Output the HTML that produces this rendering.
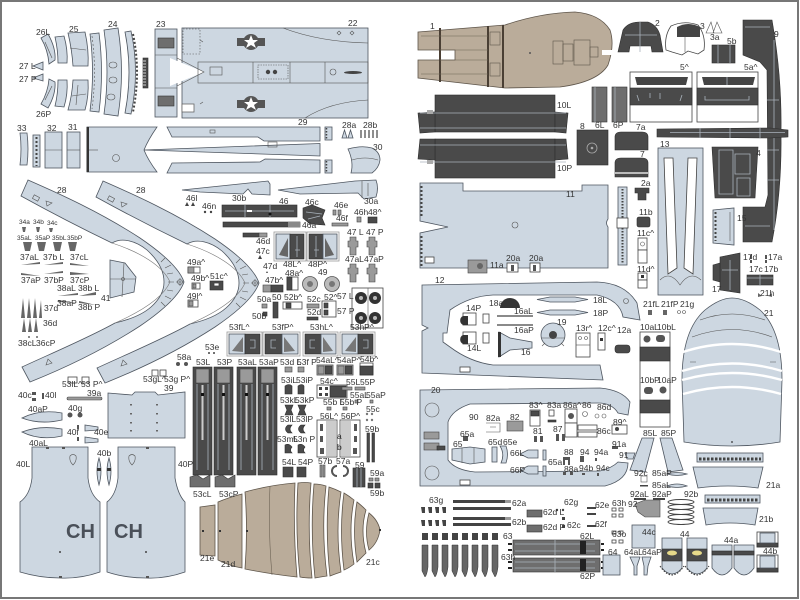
<!DOCTYPE html>
<html><head><meta charset="utf-8"><style>
html,body{margin:0;padding:0;background:#fff}
svg{display:block}
.l{fill:#cdd7e1;stroke:#4e5660;stroke-width:.8}
.d{fill:#4a4a4a;stroke:#2e2e2e;stroke-width:.6}
.m{fill:#6e6e6e;stroke:#333;stroke-width:.6}
.g{fill:#9a9a9a;stroke:#444;stroke-width:.6}
.t{fill:#baac9a;stroke:#5e554a;stroke-width:.8}
.w{fill:#fff;stroke:#444;stroke-width:.8}
.ln{fill:none;stroke:#555;stroke-width:.6}
.lt{fill:none;stroke:#aab3bc;stroke-width:.8}
.gap{fill:none;stroke:#fff;stroke-width:2.4}
text{font-family:"Liberation Sans",sans-serif;font-size:8.5px;fill:#333}
.ch{font-size:20px;font-weight:bold;fill:#4a5059}
</style></head><body>
<svg width="800" height="600" viewBox="0 0 800 600" xmlns="http://www.w3.org/2000/svg">
<rect x="0" y="0" width="800" height="600" fill="#fff"/>
<rect x="1" y="1" width="797" height="597" fill="none" stroke="#777" stroke-width="2"/>

<!-- ===== TOP LEFT STRIPS ===== -->
<path class="l" d="M41,38 L48,34 Q56,48 55,60 L49,64 Q48,50 41,38 Z"/>
<path class="ln" d="M45,42 L52,58"/>
<path class="l" d="M41,104 L48,108 Q56,94 55,82 L49,79 Q48,92 41,104 Z"/>
<path class="ln" d="M45,100 L52,86"/>
<path class="l" d="M33,66 L43,62 L43,70 Z"/>
<path class="l" d="M33,78 L43,74 L43,81 Z"/>
<path class="l" d="M55,37 L64,36 Q68,50 67,63 L58,63 Q58,50 55,37 Z"/>
<path class="l" d="M58,80 L67,80 Q68,94 64,107 L55,106 Q58,94 58,80 Z"/>
<path class="l" d="M68,33 L85,32 Q89,50 88,66 L73,66 Q72,50 68,33 Z"/>
<path class="l" d="M73,80 L88,80 Q89,96 85,110 L68,110 Q72,96 73,80 Z"/>
<path class="ln" d="M70,48 L86,50 M72,96 L86,94 M78,85 L76,105"/>
<path class="l" d="M90,34 L99,33 Q104,72 99,112 L90,111 Q95,72 90,34 Z"/>
<path class="ln" stroke-dasharray="2 2" d="M92,36 Q97,72 92,109"/>
<path class="l" d="M104,30 L118,28 Q125,72 118,116 L104,114 Q110,72 104,30 Z"/>
<ellipse class="ln" cx="113" cy="65" rx="4" ry="3"/><ellipse class="ln" cx="113" cy="80" rx="4" ry="3"/><ellipse class="ln" cx="111" cy="97" rx="4" ry="3"/>
<path class="l" d="M125,32 L131,31 Q140,72 131,114 L125,113 Q133,72 125,32 Z"/>
<path fill="none" stroke="#444" stroke-width="2" stroke-dasharray="2 2" d="M133,34 Q141,72 133,112"/>
<rect class="d" x="143" y="58" width="5" height="30"/>
<path stroke="#fff" stroke-width=".7" d="M143,61 H146 M143,64 H146 M143,67 H146 M143,70 H146 M143,73 H146 M143,76 H146 M143,79 H146 M143,82 H146 M143,85 H146"/>
<!-- 23 -->
<rect class="l" x="155" y="29" width="22" height="88"/>
<rect class="m" x="158" y="38" width="16" height="10"/>
<rect class="m" x="158" y="96" width="16" height="10"/>
<path class="ln" d="M155,55 H177 M155,88 H177"/>
<!-- 22 -->
<rect class="l" x="182" y="28" width="186" height="90"/>
<path class="w" d="M170,58 L204,72 L170,86 Z" style="stroke:none"/>
<path class="ln" d="M177,58 L204,72 L177,86"/>
<rect class="ln" x="183" y="29" width="17" height="25" stroke-dasharray="1.5 1.5"/>
<rect class="w" x="182" y="104" width="12" height="8" style="stroke:#666"/>
<rect class="ln" x="198" y="62" width="170" height="21"/>
<path class="ln" d="M253,62 V83 M290,62 V83 M325,62 V83"/>
<rect class="ln" x="210" y="67" width="12" height="8"/>
<rect class="ln" x="258" y="65" width="30" height="14" stroke-dasharray="1.5 1"/>
<circle cx="268" cy="72" r="2.2" fill="#444"/><circle cx="275" cy="72" r="2.2" fill="#444"/>
<circle class="ln" cx="333" cy="72" r="3"/>
<ellipse cx="353" cy="72.5" rx="9" ry="1.5" fill="#444"/>
<path class="ln" d="M283,28 Q320,42 368,43 M305,118 Q330,102 368,100"/>
<g>
<rect x="237" y="38" width="28" height="8" fill="#555"/>
<circle cx="251" cy="42" r="8" fill="#555"/>
<polygon points="251,35 253,40 258,40 254,43 256,48 251,45 246,48 248,43 244,40 249,40" fill="#fff"/>
<rect x="237" y="100" width="28" height="8" fill="#555"/>
<circle cx="251" cy="104" r="8" fill="#555"/>
<polygon points="251,97 253,102 258,102 254,105 256,110 251,107 246,110 248,105 244,102 249,102" fill="#fff"/>
</g>
<path class="ln" d="M339,31 l2,2 -2,2 -2,-2 z M352,31 l2,2 -2,2 -2,-2 z M200,40 l3,2 M200,104 l3,-2"/>

<!-- ===== ROW 2 ===== -->
<path class="l" d="M20,133 L27,133 Q29,149 27,165 L20,165 Q22,149 20,133 Z"/>
<rect class="l" x="33" y="135" width="7" height="32"/>
<path fill="none" stroke="#444" stroke-width="2" stroke-dasharray="2 2" d="M36.5,137 V166"/>
<rect class="l" x="45" y="132" width="17" height="36"/>
<path class="ln" d="M45,150 H62"/>
<rect class="l" x="67" y="132" width="13" height="36"/>
<path class="ln" d="M67,150 H80"/>
<!-- 29 -->
<path class="l" d="M87,127 L157,127 Q148,140 144,150 Q148,160 157,172 L87,172 Z"/>
<rect x="86.5" y="127" width="2.5" height="45" fill="#333"/>
<circle class="ln" cx="116" cy="158" r="3.5"/>
<path class="ln" d="M89,150 H98"/>
<path class="l" d="M144,150 L320,143.5 L320,156 Z"/>
<path class="l" d="M167,127 L320,127 L320,141 L264,141 L258,137 L172,137 Z"/>
<rect class="ln" x="210" y="130" width="5" height="3"/>
<path class="l" d="M167,173 L320,173 L320,160 L265,159 L260,162 L172,163 Z"/>
<rect class="ln" x="268" y="142" width="9" height="5"/>
<rect class="l" x="325" y="127" width="7" height="13"/>
<rect class="l" x="325" y="160" width="7" height="13"/>
<path fill="none" stroke="#444" stroke-width="1.5" stroke-dasharray="1.5 1.5" d="M326.5,128 V139 M326.5,161 V172"/>
<path class="l" d="M342,138 L344.5,130 L347,138 Z M348,138 L350.5,130 L353,138 Z"/>
<path stroke="#444" stroke-width="1.2" d="M361,130 V138 M365,130 V138 M369,130 V138 M373,130 V138 M377,130 V138"/>
<path class="l" d="M348,149 Q362,145 372,148 Q380,152 380,160 Q379,168 372,173 L351,173 Q354,162 348,149 Z"/>
<path class="ln" d="M352,160 Q365,156 378,160"/>

<!-- ===== 28 bands ===== -->
<g id="b28">
<path class="l" d="M28,180 C60,194 100,212 140,238 C165,255 180,270 184,282 C180,294 165,309 140,326 C100,352 60,370 30,382 L22,367 C50,354 88,338 115,323 C128,320 142,315 151,307 C160,299 164,291 164,282 C164,271 158,260 147,250 C136,241 122,237 112,243 C85,230 50,212 21,196 Z"/>
<path class="ln" d="M112,243 C140,252 163,266 170,282 C163,298 140,312 115,323" style="stroke:#777"/>
<path class="ln" d="M165,268 l6,-3 M167,274 l6,-1 M168,282 h6 M167,290 l6,1 M165,296 l6,3 M161,262 l4,-4 M161,302 l4,4"/>
<circle class="ln" cx="180" cy="282" r="2.5"/><path class="ln" d="M176,282 h8 M180,278 v8"/>
<rect class="ln" x="33" y="196" width="6" height="4" transform="rotate(28 36 198)"/>
<path class="ln" d="M46,201 l6,2 -5,3 z M46,365 l6,-2 -4,-4 z"/>
</g>
<use href="#b28" transform="translate(75,1)"/>
<path class="l" d="M110,260 L125,263 L136,277 L134,292 L110,298 Z"/>
<path class="ln" d="M110,279 L136,279 M124,263 L122,297"/>
<circle class="ln" cx="123" cy="279" r="1.5"/>

<!-- ===== ROW 3 ===== -->
<path class="l" d="M182,190 L268,181 L270,184 L270,195 L252,194 L248,189 L243,194 L200,192 Z"/>
<path class="l" d="M278,190 L355,181 L376,180 Q379,188 376,197 L364,199 L358,193 L300,194 Z"/>
<path class="ln" d="M362,181 L362,198 M368,183 L368,196"/>
<path fill="#444" d="M185,206 l2,-4 2,4 z M191,206 l2,-4 2,4 z"/>
<circle cx="205" cy="212" r="1.2" fill="#444"/><circle cx="211" cy="212" r="1.2" fill="#444"/>
<rect class="d" x="222" y="205" width="75" height="12"/>
<path class="lt" d="M225,211 H294 M245,205 V217 M270,205 V217"/>
<rect x="247" y="210" width="5" height="2" fill="#fff"/><circle cx="270" cy="214" r="1.5" fill="#111"/>
<rect class="d" x="223" y="222" width="77" height="5"/>
<rect x="288" y="222" width="12" height="5" fill="#888"/>
<path class="d" d="M303,208 L312,205 L325,210 L322,218 L325,225 L310,224 L303,218 Z"/>
<path class="lt" d="M306,212 L322,214 M308,219 L320,216"/>
<rect class="g" x="333" y="210" width="3" height="5"/><rect class="g" x="338" y="210" width="3" height="5"/>
<rect class="g" x="332" y="223" width="16" height="3"/>
<rect class="g" x="357" y="217" width="4" height="5"/>
<rect class="d" x="368" y="217" width="9" height="6"/>
<rect class="d" x="243" y="233" width="16" height="4"/><rect class="g" x="259" y="233" width="8" height="4"/>
<path fill="#444" d="M258,259 l2,-4 2,4 z M266,273 l1,-2 1,2 z"/>
<!-- 48L^ 48P^ -->
<rect class="w" x="274" y="232" width="32" height="29" style="stroke:#999"/>
<rect class="l" x="276" y="234" width="14" height="25"/>
<path fill="#666" d="M279,255 L288,238 L288,257 Z"/>
<rect class="d" x="290" y="234" width="14" height="25"/>
<path class="lt" d="M297,236 V257 M295,250 h5"/>
<rect class="w" x="307" y="232" width="32" height="29" style="stroke:#999"/>
<rect class="d" x="309" y="234" width="14" height="25"/>
<path class="lt" d="M316,236 V257 M314,250 h5"/>
<rect class="l" x="323" y="234" width="14" height="25"/>
<path fill="#666" d="M334,255 L325,238 L325,257 Z"/>
<!-- 47 -->
<path class="g" d="M350,237 h6 v4 h2 v6 h-2 v8 h-6 v-8 h-2 v-6 h2 z"/>
<path class="g" d="M369,237 h6 v4 h2 v6 h-2 v8 h-6 v-8 h-2 v-6 h2 z"/>
<path class="g" d="M350,264 h6 v4 h2 v6 h-2 v8 h-6 v-8 h-2 v-6 h2 z"/>
<path class="g" d="M369,264 h6 v4 h2 v6 h-2 v8 h-6 v-8 h-2 v-6 h2 z"/>
<rect class="w" x="287" y="277" width="11" height="13"/><rect class="d" x="287" y="277" width="5" height="13"/>
<circle cx="310" cy="284" r="7.5" fill="#bbb" stroke="#555" stroke-width=".8"/><circle cx="310" cy="284" r="3" fill="#777"/>
<circle cx="332" cy="284" r="7.5" fill="#bbb" stroke="#555" stroke-width=".8"/><circle cx="332" cy="284" r="3" fill="#777"/>
<rect class="g" x="263" y="285" width="8" height="7"/><rect class="d" x="271" y="285" width="12" height="7"/>
<rect class="w" x="188" y="267" width="12" height="6"/><rect class="g" x="188" y="267" width="6" height="6"/>
<rect class="w" x="192" y="283" width="8" height="6"/><rect class="g" x="193" y="284" width="3" height="4"/>
<rect class="d" x="210" y="281" width="13" height="9"/><rect class="w" x="214" y="283" width="5" height="3"/>
<rect class="w" x="188" y="300" width="10" height="7"/><rect class="g" x="189" y="301" width="4" height="5"/>
<rect class="g" x="262" y="304" width="5" height="4"/>
<rect class="d" x="273" y="302" width="5" height="16"/>
<rect class="d" x="263" y="312" width="4" height="4"/>
<rect class="w" x="283" y="302" width="19" height="7"/><rect class="d" x="286" y="303" width="5" height="5"/>
<rect class="g" x="307" y="304" width="12" height="4"/>
<rect class="d" x="307" y="317" width="11" height="3"/>
<rect class="w" x="322" y="301" width="14" height="16"/><rect class="d" x="324" y="303" width="4" height="5"/><rect class="d" x="324" y="310" width="4" height="5"/>
<!-- 57 -->
<rect class="w" x="352" y="288" width="31" height="40"/>
<circle cx="361" cy="298" r="6" fill="#333"/><circle cx="375" cy="298" r="6" fill="#333"/>
<circle cx="361" cy="318" r="6" fill="#333"/><circle cx="375" cy="318" r="6" fill="#333"/>
<circle cx="361" cy="298" r="2" fill="#bbb"/><circle cx="375" cy="298" r="2" fill="#bbb"/>
<circle cx="361" cy="318" r="2" fill="#bbb"/><circle cx="375" cy="318" r="2" fill="#bbb"/>
<path class="ln" d="M368,288 V328"/>

<!-- left small parts -->
<g fill="#666">
<path d="M22,227 h4 l-1,5 h-2 z M36,227 h4 l-1,5 h-2 z M49,228 h4 l-1,4 h-2 z"/>
<path d="M23,242 h9 l-2,9 h-5 z M37,242 h9 l-2,9 h-5 z M53,242 h9 l-2,9 h-5 z M68,242 h9 l-2,9 h-5 z"/>
<path d="M21,265 L40,262 L40,264 Z M44,265 L63,262 L63,264 Z M70,263 L89,266 L70,265 Z"/>
<path d="M21,273 L40,276 L21,275 Z M44,274 L63,271 L63,273 Z M70,272 L89,274 L70,275 Z"/>
<path d="M58,296 L78,293 L78,295 Z M79,296 L96,292 L96,295 Z M58,300 L78,303 L58,302 Z M79,301 L96,305 L79,303 Z"/>
<path d="M21,318 L23,298 L25,318 Z M27,318 L29,298 L31,318 Z M33,318 L35,298 L37,318 Z M39,318 L41,300 L42,318 Z"/>
<path d="M22,332 L24,318 L26,332 Z M28,332 L30,318 L32,332 Z M34,332 L36,318 L38,332 Z"/>
<circle cx="29" cy="337" r="1"/><circle cx="37" cy="337" r="1"/>
</g>

<!-- ===== ROW 4: 53 boxes ===== -->
<rect class="w" x="227" y="332" width="35" height="24" style="stroke:#999"/>
<rect class="l" x="229" y="334" width="16" height="20"/><path fill="#777" d="M232,351 L243,337 L243,352 Z"/>
<rect class="d" x="245" y="334" width="15" height="20"/><path class="lt" d="M250,340 h5 v8 h-5"/>
<rect class="w" x="263" y="332" width="37" height="24" style="stroke:#999"/>
<rect class="d" x="265" y="334" width="17" height="20"/><path class="lt" d="M276,340 h-5 v8 h5"/>
<rect class="l" x="282" y="334" width="16" height="20"/><path fill="#777" d="M295,351 L284,337 L284,352 Z"/>
<rect class="w" x="303" y="332" width="35" height="24" style="stroke:#999"/>
<rect class="d" x="305" y="334" width="16" height="20"/><path class="lt" d="M315,340 h-5 v8 h5"/>
<rect class="l" x="321" y="334" width="15" height="20"/><path fill="#777" d="M333,351 L323,337 L323,352 Z"/>
<rect class="w" x="340" y="332" width="35" height="24" style="stroke:#999"/>
<rect class="l" x="342" y="334" width="16" height="20"/><path fill="#777" d="M345,351 L356,337 L356,352 Z"/>
<rect class="d" x="358" y="334" width="15" height="20"/><path class="lt" d="M363,340 h5 v8 h-5"/>
<circle cx="209" cy="353" r="1" fill="#444"/><circle cx="214" cy="353" r="1" fill="#444"/>
<circle cx="178" cy="364" r="2" fill="#555"/><circle cx="186" cy="364" r="2" fill="#555"/>
<!-- tall strips -->
<g>
<rect class="d" x="193" y="367" width="19" height="108"/><rect class="g" x="196" y="369" width="13" height="14"/>
<rect class="d" x="214" y="367" width="19" height="108"/><rect class="g" x="217" y="369" width="13" height="14"/>
<rect class="d" x="237" y="367" width="19" height="108"/><rect class="g" x="240" y="369" width="13" height="14"/>
<rect class="d" x="258" y="367" width="19" height="108"/><rect class="g" x="261" y="369" width="13" height="14"/>
<path class="lt" d="M197,384 V470 M208,384 V470 M218,384 V470 M229,384 V470 M241,384 V470 M252,384 V470 M262,384 V470 M273,384 V470"/>
<path stroke="#ccc" stroke-width="2" d="M202.5,385 V440 M223.5,385 V440 M246.5,385 V440 M267.5,385 V440"/>
<rect x="201" y="393" width="3" height="3" fill="#111"/><rect x="222" y="393" width="3" height="3" fill="#111"/><rect x="245" y="393" width="3" height="3" fill="#111"/><rect x="266" y="393" width="3" height="3" fill="#111"/>
</g>
<path class="m" d="M190,477 L197,475 L203,479 L210,475 L210,487 L190,487 Z"/>
<path class="m" d="M215,477 L222,475 L228,479 L235,475 L235,487 L215,487 Z"/>
<!-- small parts col -->
<g>
<rect class="g" x="285" y="367" width="7" height="5"/><rect class="g" x="298" y="367" width="6" height="5"/>
<rect class="w" x="317" y="365" width="16" height="10"/><rect class="d" x="325" y="366" width="7" height="8"/><rect class="g" x="318" y="366" width="6" height="8"/>
<rect class="w" x="337" y="365" width="16" height="10"/><rect class="g" x="338" y="366" width="6" height="8"/><rect class="d" x="345" y="366" width="7" height="8"/>
<rect class="w" x="360" y="363" width="13" height="12"/><rect class="d" x="360" y="366" width="13" height="9"/>
<path class="d" d="M285,386 q4,-3 7,0 v8 h-7 z M298,386 q4,-3 6,0 v8 h-6 z"/>
<path class="d" d="M285,405 h8 l-2,5 2,5 h-8 l2,-5 z M298,405 h8 l-2,5 2,5 h-8 l2,-5 z"/>
<path class="d" d="M288,425 q-5,4 0,8 h4 q-4,-4 0,-8 z M301,425 q-5,4 0,8 h4 q-4,-4 0,-8 z"/>
<path class="d" d="M285,445 q4,-2 7,2 q-3,3 0,6 h-7 z M298,445 q4,-2 7,2 q-3,3 0,6 h-7 z"/>
<path class="d" d="M283,467 h10 v10 h-10 z M297,467 h9 v10 h-9 z"/>
<rect class="w" x="317" y="385" width="30" height="13"/><rect class="d" x="330" y="386" width="16" height="11"/>
<rect x="319" y="387" width="3" height="3" fill="#444"/><rect x="325" y="387" width="3" height="3" fill="#444"/><rect x="319" y="393" width="3" height="3" fill="#444"/><rect x="325" y="393" width="3" height="3" fill="#444"/>
<rect class="g" x="342" y="387" width="10" height="3"/><rect class="g" x="355" y="387" width="10" height="3"/>
<rect class="g" x="355" y="400" width="3" height="3"/><rect class="g" x="370" y="400" width="3" height="3"/>
<rect class="g" x="327" y="407" width="4" height="3"/><rect class="g" x="343" y="407" width="4" height="3"/>
<circle cx="367" cy="414" r="1.2" fill="#777"/><circle cx="372" cy="414" r="1.2" fill="#777"/><circle cx="367" cy="420" r="1.2" fill="#777"/><circle cx="372" cy="420" r="1.2" fill="#777"/>
<rect class="w" x="317" y="420" width="20" height="37"/><rect x="326" y="421" width="10" height="35" fill="#ccc"/>
<rect class="w" x="340" y="420" width="20" height="37"/><rect x="341" y="421" width="10" height="35" fill="#ccc"/>
<path fill="#555" d="M320,424 h3 v7 h-3 z M320,436 h3 v6 h-3 z M320,448 h4 v6 h-4 z M354,424 h3 v7 h-3 z M354,436 h3 v6 h-3 z M353,448 h4 v6 h-4 z"/>
<rect class="d" x="367" y="433" width="2.5" height="29"/><rect class="d" x="372" y="433" width="2.5" height="29"/>
<rect class="g" x="320" y="465" width="2" height="12"/><rect class="g" x="323" y="465" width="2" height="12"/>
<path fill="none" stroke="#555" stroke-width="2" d="M337,466 a5,5 0 0 0 0,10 M343,466 a5,5 0 0 1 0,10"/>
<rect class="d" x="353" y="468" width="12" height="19"/><path class="lt" d="M357,468 v19 M361,468 v19"/>
<rect class="g" x="369" y="478" width="4" height="3"/><rect class="g" x="375" y="478" width="4" height="3"/>
<rect class="d" x="368" y="483" width="5" height="5"/><rect class="d" x="375" y="483" width="5" height="5"/>
</g>

<!-- ===== LOWER LEFT ===== -->
<rect class="w" x="68" y="377" width="9" height="6"/><rect class="w" x="82" y="377" width="7" height="6"/>
<rect class="w" x="152" y="370" width="6" height="6"/><rect class="w" x="160" y="370" width="6" height="6"/>
<path fill="#555" d="M32,392 h4 v3 h-4 z M32,398 h4 v3 h-4 z M42,393 h2 v6 h-2 z"/>
<rect class="g" x="67" y="397" width="35" height="3" rx="1.5"/>
<path class="l" d="M108,393 L132,395 L135,392 L155,392 L158,395 L185,392 L185,438 L108,438 Z"/>
<g fill="#666"><rect x="130" y="404" width="2" height="1.5"/><rect x="156" y="404" width="2" height="1.5"/><rect x="130" y="413" width="2" height="1.5"/><rect x="156" y="413" width="2" height="1.5"/><rect x="130" y="422" width="2" height="1.5"/><rect x="156" y="422" width="2" height="1.5"/><rect x="130" y="430" width="2" height="1.5"/><rect x="156" y="430" width="2" height="1.5"/></g>
<path class="l" d="M22,418 Q40,409 62,413 L62,420 Q40,425 22,418 Z"/>
<path class="l" d="M22,432 Q40,425 62,429 L62,436 Q40,441 22,432 Z"/>
<circle cx="70" cy="415" r="2.5" fill="#555"/><circle cx="80" cy="415" r="2.5" fill="#555"/>
<rect fill="#555" x="77" y="425" width="2" height="4"/><rect fill="#555" x="77" y="437" width="2" height="4"/>
<path class="l" d="M85,425 L98,427 L98,430 L85,431 Z M85,437 L98,439 L98,442 L85,443 Z"/>
<path class="l" d="M32,447 L88,447 L88,478 Q90,495 100,502 L100,572 Q80,579 60,578 Q40,578 20,572 L20,502 Q30,495 32,478 Z"/>
<path class="l" d="M118,447 L175,447 L175,478 Q178,495 185,502 L185,572 Q165,579 146,578 Q125,578 107,572 L107,502 Q116,495 118,478 Z"/>
<path fill="#555" d="M46,447 h3 v2 h-3 z M62,447 h3 v2 h-3 z M146,447 h3 v2 h-3 z M59,576 h3 v2 h-3 z M146,576 h3 v2 h-3 z"/>
<path class="ln" d="M70,456 q3,-3 6,0 q1,5 -3,9 q-4,-4 -3,-9 z M129,456 q3,-3 6,0 q1,5 -3,9 q-4,-4 -3,-9 z"/>
<text class="ch" x="66" y="538">CH</text>
<text class="ch" x="114" y="538">CH</text>
<circle cx="60" cy="552" r="1" fill="#444"/><circle cx="146" cy="552" r="1" fill="#444"/>
<path class="l" d="M99,458 Q103,471 99,485 Q95,471 99,458 Z"/>
<path class="l" d="M109,458 Q113,471 109,485 Q105,471 109,458 Z"/>
<rect fill="#333" x="97" y="468" width="4" height="3"/><rect fill="#333" x="107" y="468" width="4" height="3"/>
<!-- tan 21c-e -->
<path class="t" d="M200,507 L215,505 L215,556 L200,555 Z"/>
<path class="t" d="M218,502 Q230,497 242,494 L242,568 Q230,566 218,560 Z"/>
<path class="t" d="M245,492 Q270,485 295,483 Q293,530 297,577 Q270,574 245,569 Q248,530 245,492 Z"/>
<path class="t" d="M298,483 Q305,482 311,483 Q307,530 312,578 Q305,578 300,577 Q295,530 298,483 Z"/>
<path class="t" d="M314,484 Q320,484 326,486 Q321,530 327,576 Q320,577 315,578 Q310,530 314,484 Z"/>
<path class="t" d="M329,487 Q335,489 341,492 Q335,530 341,572 Q335,574 330,576 Q325,530 329,487 Z"/>
<path class="t" d="M344,493 Q349,496 354,500 Q348,530 354,564 Q349,568 344,570 Q339,530 344,493 Z"/>
<path class="t" d="M357,502 Q361,505 366,510 Q360,530 366,553 Q361,558 357,562 Q352,530 357,502 Z"/>
<path class="t" d="M369,513 Q378,520 380,530 Q378,543 369,550 Q364,532 369,513 Z"/>
<path class="ln" d="M270,486 Q268,530 272,575" style="stroke:#6d6355"/>
<path fill="#333" d="M202,530 h2 v2 h-2 z M219,530 h2 v2 h-2 z M246,530 h2 v2 h-2 z M379,529 h2 v2 h-2 z"/>

<!-- ===== RIGHT SIDE TOP ===== -->
<path class="t" d="M418,32 L505,25 Q540,13 575,12 Q600,14 610,30 Q615,45 608,65 Q598,82 560,87 L505,88 L418,78 L418,60 L455,60 L455,50 L418,50 Z"/>
<rect x="602" y="50" width="12" height="5" fill="#fff"/>
<path stroke="#4a3f34" stroke-width="2" d="M440,28 V82 M488,26 V87 M503,25 V88"/>
<path class="ln" d="M421,36 H488 M421,74 H488 M440,50 H488 M440,60 H488" style="stroke:#6d6355"/>
<rect class="ln" x="490" y="32" width="10" height="13" style="stroke:#5e554a"/><rect class="ln" x="490" y="63" width="10" height="13" style="stroke:#5e554a"/>
<rect class="ln" x="553" y="41" width="10" height="23" style="stroke:#5e554a"/><rect class="ln" x="563" y="44" width="10" height="17" style="stroke:#5e554a"/><rect class="ln" x="574" y="40" width="16" height="25" style="stroke:#5e554a"/><rect class="ln" x="590" y="47" width="8" height="10" style="stroke:#5e554a"/>
<circle cx="530" cy="53" r="1" fill="#555"/>
<path class="d" d="M618,52 L623,30 Q628,22 640,22 L648,22 Q657,25 660,35 L663,52 L652,52 L651,46 L630,46 L629,52 Z"/>
<path class="lt" d="M625,35 H657 M640,22 V52"/>
<path class="w" d="M666,50 Q664,36 671,26 Q684,20 698,25 Q706,35 704,50 L698,54 L688,51 L682,55 L672,52 Z"/>
<path fill="#444" d="M677,37 L677,27 Q688,21 700,27 L700,37 Z"/>
<path class="ln" d="M685,37 V52"/>
<path class="ln" d="M706,33 L711,22 L714,33 Z M713,33 L717,22 L722,33 Z"/>
<rect class="d" x="712" y="45" width="23" height="18"/><path class="lt" d="M718,45 v18 M730,45 v18"/>
<rect class="w" x="630" y="72" width="62" height="50"/>
<path fill="#444" d="M635,77 H688 L686,85 H637 Z"/>
<rect class="d" x="630" y="88" width="62" height="17"/>
<path class="lt" d="M637,95 l2,6 M650,93 v5 M660,93 v6 M682,95 l-2,6"/>
<rect class="w" x="697" y="72" width="61" height="50"/>
<path fill="#444" d="M702,77 H755 L753,85 H704 Z"/>
<rect class="d" x="697" y="88" width="61" height="17"/>
<path class="lt" d="M705,96 v4 h44 v-4 M727,77 v8"/>
<!-- 9 -->
<path class="d" d="M743,20 L772,20 L773,26 Q782,80 781,133 Q782,190 772,242 L743,242 L743,207 L765,207 L768,195 L767,70 L760,62 L743,55 Z"/>
<path class="lt" d="M745,27 H770 M767,100 H779 M767,150 H779 M767,180 H779 M745,226 H770 M774,40 V230"/>
<path class="d" d="M657,129 L770,128 L788,130 L788,137 L770,138 L657,137 Z"/>
<path class="lt" d="M670,132.5 H785 M700,128 V138 M730,128 V138 M760,128 V138"/>
<!-- 4 -->
<path class="d" d="M712,147 L758,147 L755,198 L715,198 Z"/>
<path class="lt" d="M719,150 h14 v44 h-14 z M735,154 h15 v20 h-15 z M737,178 h13 v18 h-13 z"/>
<!-- 15 -->
<path class="l" d="M713,210 L734,208 L734,245 L713,243 Z"/>
<path fill="none" stroke="#444" stroke-width="2" stroke-dasharray="2 2" d="M715.5,212 V241"/>
<path class="ln" d="M730,212 V241"/>
<!-- 17 -->
<path class="d" d="M720,257 L740,253 L740,293 L720,290 Z"/>
<path class="d" d="M713,265 L720,263 L720,282 L713,280 Z"/>
<path class="lt" d="M722,270 H738 M730,260 V290"/>
<path fill="#555" d="M750,255 h2 v4 h-2 z M750,260 h2 v3 h-2 z M765,255 h2 v4 h-2 z M765,260 h2 v3 h-2 z"/>
<rect class="d" x="747" y="275" width="26" height="10"/><path class="lt" d="M747,278 H773 M760,275 v10"/>
<path fill="#666" d="M758,293 l4,3 -4,1 z M772,293 l-4,3 4,1 z"/>
<!-- 10L 10P -->
<rect class="d" x="435" y="95" width="120" height="37"/>
<path class="d" d="M418,113 L435,112 L435,132 L420,133 Z M555,112 L568,113 L566,133 L555,132 Z"/>
<path class="lt" d="M420,113 H566 M420,128 H566"/>
<rect x="427" y="110" width="6" height="4" fill="#aaa"/>
<rect class="d" x="435" y="139" width="120" height="39"/>
<path class="d" d="M420,139 L435,139 L435,160 L418,159 Z M555,139 L566,139 L568,159 L555,160 Z"/>
<path class="lt" d="M420,145 H566 M420,162 H566"/>
<rect x="427" y="160" width="6" height="4" fill="#aaa"/>
<rect class="m" x="592" y="87" width="15" height="35"/><path class="lt" d="M595,87 v35"/>
<rect class="m" x="612" y="87" width="15" height="35"/><path class="lt" d="M615,87 v35"/>
<rect class="d" x="577" y="130" width="31" height="35"/>
<circle cx="592" cy="148" r="5" fill="none" stroke="#aaa" stroke-width=".8"/><circle cx="592" cy="148" r="1.3" fill="#aaa"/>
<path class="d" d="M615,150 L615,137 Q615,132 621,132 L642,132 Q648,132 648,137 L648,150 Z"/>
<path class="d" d="M615,177 L615,163 Q615,158 621,158 L642,158 Q648,158 648,163 L648,177 Z"/>
<rect x="615" y="172" width="33" height="2" fill="#bbb"/>
<!-- 13 -->
<rect class="l" x="658" y="148" width="45" height="147"/>
<path class="w" d="M664,158 L673,158 L677,268 L668,274 Z"/>
<path class="w" d="M688,158 L697,158 L693,274 L684,268 Z"/>
<path class="ln" d="M660,280 Q670,270 680,285 Q690,270 701,280"/>
<!-- 11 -->
<path class="l" d="M420,183 L463,183 L463,191 L582,191 L582,185 L608,185 L608,219 Q605,223 608,227 L608,268 L420,268 L420,233 L448,227 L420,221 Z"/>
<path fill="none" stroke="#444" stroke-width="2" stroke-dasharray="2 2" d="M421.5,186 V218 M421.5,236 V266"/>
<circle class="ln" cx="515" cy="225" r="3"/>
<rect class="w" x="425" y="257" width="9" height="6"/>
<rect class="l" x="618" y="187" width="9" height="78"/>
<path fill="none" stroke="#444" stroke-width="2" stroke-dasharray="1.5 1.5" d="M622.5,189 V264"/>
<rect class="w" x="617" y="218" width="11" height="10"/>
<path class="d" d="M635,188 h14 v5 h-3 v7 h-8 v-7 h-3 z"/>
<rect class="d" x="637" y="217" width="13" height="10" rx="2"/>
<rect class="w" x="638" y="238" width="9" height="12"/><rect class="w" x="638" y="250" width="9" height="13"/><circle class="ln" cx="642.5" cy="244" r="2"/>
<rect class="w" x="638" y="273" width="9" height="7"/><rect class="w" x="638" y="280" width="9" height="8"/><rect x="641" y="275" width="3" height="3" fill="#333"/>
<rect class="g" x="468" y="260" width="19" height="13"/><circle cx="480" cy="266" r="3" fill="#666"/>
<rect class="w" x="507" y="263" width="11" height="9"/><rect x="511" y="265" width="3" height="6" fill="#555"/>
<rect class="w" x="530" y="263" width="10" height="9"/><rect x="533" y="265" width="3" height="6" fill="#555"/>
<!-- 12 -->
<path class="l" d="M422,285 L597,282 Q625,283 637,303 L640,320 L623,317 Q620,300 597,295 L493,295 Q470,296 450,310 L447,333 L443,333 L443,342 L450,347 Q470,362 493,365 L600,365 L603,380 L422,373 L422,331 L428,328 L422,325 Z"/>
<circle class="ln" cx="626" cy="301" r="2.5"/>
<rect class="w" x="460" y="367" width="10" height="5"/>
<path fill="#333" d="M500,308 A10,10 0 0 1 520,308 Z"/>
<path class="l" d="M537,299.5 L550,297 L575,297 L588,299.5 L575,302 L550,302 Z"/>
<path class="l" d="M537,312.5 L550,310 L575,310 L588,312.5 L575,315 L550,315 Z"/>
<path stroke="#444" stroke-width="1.2" d="M497,316 H533 M497,325 H533"/>
<rect class="w" x="463" y="313" width="13" height="12"/><path fill="#333" d="M463,316 A5,5 0 0 0 463,325 L468,325 L468,316 Z"/>
<rect class="w" x="483" y="314" width="6" height="9"/>
<rect class="w" x="463" y="332" width="13" height="12"/><path fill="#333" d="M463,335 A5,5 0 0 0 463,344 L468,344 L468,335 Z"/>
<rect class="w" x="483" y="333" width="6" height="10"/>
<path class="l" d="M499,332 L510,338 L532,342 L532,348 L510,350 L499,357 Z"/><rect x="498" y="332" width="3" height="25" fill="#333"/>
<circle cx="553" cy="335" r="12" fill="#cdd7e1" stroke="#4e5660" stroke-width=".8"/><circle cx="553" cy="335" r="4" fill="#444"/><path class="ln" d="M541,338 H565 M545,343 l-3,3 M561,343 l3,3"/>
<rect class="w" x="576" y="333" width="14" height="24"/><circle class="ln" cx="580" cy="338" r="1.5"/><circle class="ln" cx="586" cy="338" r="1.5"/><path class="ln" d="M576,345 H590"/>
<rect class="w" x="598" y="333" width="7" height="17"/><rect x="600" y="338" width="3" height="3" fill="#333"/>
<rect class="d" x="615" y="345" width="15" height="8" rx="3"/>
<path fill="#666" d="M648,310 h4 v5 h-4 z M663,310 h4 v5 h-4 z"/><circle class="ln" cx="679" cy="312" r="1.5"/><circle class="ln" cx="684" cy="312" r="1.5"/>
<!-- 10a/10b box -->
<rect class="w" x="640" y="332" width="30" height="95"/>
<circle cx="647" cy="339" r="3.5" fill="#555"/><rect x="656" y="335" width="9" height="7" rx="3" fill="#555"/>
<rect class="d" x="640" y="347" width="30" height="14"/>
<rect x="644" y="387" width="9" height="7" rx="3" fill="#555"/><circle cx="663" cy="390" r="3.5" fill="#555"/>
<rect class="d" x="640" y="400" width="30" height="13"/>
<!-- 21 dome -->
<path class="l" d="M682,380 Q682,330 705,310 Q720,298 732,298 Q745,298 760,310 Q782,330 782,380 L780,442 Q732,450 684,442 Z"/>
<path class="gap" d="M683,352 Q732,336 781,352 M682,371 Q732,356 782,371 M682,380 Q732,366 782,380 M683,394 Q732,380 781,394"/>
<path class="ln" d="M700,320 Q732,308 765,320 M692,337 Q732,322 772,337 M690,362 h6 M770,362 h6"/>
<circle cx="732" cy="442" r=".9" fill="#333"/>
<rect class="l" x="697" y="453" width="66" height="9"/>
<path fill="none" stroke="#444" stroke-width="3" stroke-dasharray="2.5 1.5" d="M699,459 H761"/>
<path class="l" d="M693,467 L763,467 L758,488 Q728,484 698,488 Z"/>
<rect class="l" x="705" y="495" width="55" height="8"/>
<path fill="none" stroke="#444" stroke-width="3" stroke-dasharray="2.5 1.5" d="M707,500 H758"/>
<path class="l" d="M703,508 L758,508 L755,525 Q730,521 706,525 Z"/>
<!-- 20 -->
<path class="l" d="M420,390 L600,388 Q622,390 630,402 L628,415 L618,413 Q612,403 598,403 L470,404 Q452,410 448,422 L448,460 Q455,470 475,472 L600,471 Q612,468 618,462 L628,463 Q628,480 605,486 L420,486 Z"/>
<circle class="ln" cx="432" cy="410" r="7"/><circle class="ln" cx="432" cy="473" r="7"/>
<rect class="g" x="424" y="432" width="15" height="7"/><rect class="g" x="424" y="443" width="15" height="7"/><rect class="d" x="437" y="446" width="8" height="4"/>
<rect class="w" x="460" y="480" width="10" height="5"/>
<path class="ln" d="M486,423 h14 v9 h-14 M490,427 h6"/>
<rect class="g" x="507" y="421" width="16" height="10"/>
<rect class="w" x="530" y="410" width="10" height="16"/><rect class="d" x="531" y="411" width="8" height="5"/>
<rect class="w" x="549" y="410" width="5" height="6"/><rect class="d" x="548" y="420" width="8" height="2"/>
<rect class="w" x="565" y="409" width="12" height="14"/><rect class="w" x="565" y="423" width="12" height="14"/><circle cx="571" cy="416" r="3" fill="#555"/>
<circle class="ln" cx="585" cy="414" r="2.5"/><circle class="ln" cx="597" cy="416" r="2"/><circle class="ln" cx="604" cy="416" r="2"/>
<rect class="w" x="578" y="425" width="19" height="5"/><rect class="w" x="578" y="432" width="19" height="5"/>
<rect class="w" x="612" y="425" width="15" height="9"/><circle cx="617" cy="429" r="2" fill="#444"/>
<path class="l" d="M452,449 L470,447 L485,449 L485,462 L470,464 L452,460 Z"/><path class="ln" d="M462,448 v15 M474,448 v15"/>
<rect class="l" x="492" y="447" width="5" height="15"/><path class="l" d="M500,446 Q505,454 501,463 L506,463 Q509,454 506,446 Z"/>
<path class="l" d="M520,454 L528,450 L538,450 L538,458 L528,458 Z"/><path class="l" d="M520,470 L528,466 L538,466 L538,474 L528,474 Z"/>
<rect class="l" x="543" y="450" width="3" height="10"/><rect class="l" x="543" y="466" width="3" height="10"/>
<path fill="#555" d="M563,457 h7 v8 h-2 v-5 h-3 v5 h-2 z M563,472 h3 v3 h-3 z M570,472 h3 v3 h-3 z M580,456 h4 v6 h-4 z M595,458 h2 v3 h-2 z M582,473 h3 v2 h-3 z M597,473 h2 v3 h-2 z M534,436 h3 v6 h-3 z M540,436 h3 v6 h-3 z M556,434 h3 v7 h-3 z M562,434 h3 v7 h-3 z M463,436 h5 v5 h-5 z M612,446 h6 v3 h-6 z"/>
<path class="l" d="M625,453 h10 l-2,6 h-6 z"/>
<!-- right of 20 -->
<path class="l" d="M642,438 L654,438 L645,472 L630,470 Z"/>
<path class="l" d="M660,438 L672,438 L683,470 L668,472 Z"/>
<rect class="ln" x="641" y="476" width="6" height="6"/><path fill="#444" d="M640,485 h8 v1.5 h-8 z"/>
<path class="l" d="M667,474 Q677,471 687,474 Q677,477 667,474 Z"/>
<path class="l" d="M667,486 Q677,482 687,486 Q677,489 667,486 Z"/>
<rect fill="#444" x="634" y="498" width="12" height="2"/><rect fill="#444" x="653" y="498" width="12" height="2"/>
<g fill="none" stroke="#444" stroke-width="1"><ellipse cx="681" cy="502" rx="13" ry="2.5"/><ellipse cx="681" cy="507" rx="13" ry="2.5"/><ellipse cx="681" cy="512" rx="13" ry="2.5"/><ellipse cx="681" cy="517" rx="13" ry="2.5"/><ellipse cx="681" cy="522" rx="13" ry="2.5"/></g>
<path class="g" d="M635,504 L645,500 L660,500 L660,517 L645,517 L638,512 Z"/>
<!-- bottom right rows -->
<g fill="#444">
<path d="M421,507 h4 v6 h-3 z M428,507 h4 v6 h-3 z M435,507 h4 v6 h-3 z M442,507 h4 v6 h-3 z M421,520 h4 v6 h-3 z M428,520 h4 v6 h-3 z M435,520 h4 v6 h-3 z M442,520 h4 v6 h-3 z"/>
<rect x="453" y="500" width="58" height="3"/><rect x="453" y="507" width="58" height="3"/>
<rect x="453" y="517" width="58" height="3"/><rect x="453" y="523" width="58" height="3"/>
<path d="M422,533 h6 v7 h-6 z M432,533 h6 v7 h-6 z M442,533 h6 v7 h-6 z M452,533 h6 v7 h-6 z M462,533 h6 v7 h-6 z M472,533 h6 v7 h-6 z M482,533 h6 v7 h-6 z M492,533 h6 v7 h-6 z"/>
<circle cx="557" cy="510" r="1.2"/><circle cx="563" cy="510" r="1.2"/><rect x="562" y="517" width="3" height="3"/><rect x="562" y="525" width="3" height="3"/>
<rect x="587" y="507" width="9" height="2"/><rect x="587" y="513" width="9" height="2"/><rect x="587" y="525" width="9" height="2"/>
</g>
<rect fill="#999" x="505" y="500" width="6" height="3"/><rect fill="#999" x="505" y="517" width="6" height="3"/>
<g fill="#666" stroke="#333" stroke-width=".5">
<path d="M422,545 h6 v22 q-1,8 -3,10 l-3,-6 z"/><path d="M432,545 h6 v22 q-1,8 -3,10 l-3,-6 z"/><path d="M442,545 h6 v22 q-1,8 -3,10 l-3,-6 z"/><path d="M452,545 h6 v22 q-1,8 -3,10 l-3,-6 z"/>
<path d="M462,545 h6 v22 q-1,8 -3,10 l-3,-6 z"/><path d="M472,545 h6 v22 q-1,8 -3,10 l-3,-6 z"/><path d="M482,545 h6 v22 q-1,8 -3,10 l-3,-6 z"/><path d="M492,545 h6 v22 q-1,8 -3,10 l-3,-6 z"/>
</g>
<rect class="m" x="527" y="510" width="15" height="7"/><rect class="m" x="527" y="525" width="15" height="7"/>
<rect class="w" x="612" y="508" width="4" height="3"/><rect class="w" x="619" y="508" width="4" height="3"/><rect class="w" x="612" y="514" width="4" height="3"/><rect class="w" x="619" y="514" width="4" height="3"/>
<rect class="w" x="612" y="531" width="4" height="3"/><rect class="w" x="619" y="531" width="4" height="3"/><rect class="w" x="612" y="540" width="4" height="3"/><rect class="w" x="619" y="540" width="4" height="3"/>
<rect class="l" x="632" y="525" width="23" height="23"/>
<rect class="m" x="513" y="540" width="87" height="15"/><path class="lt" d="M515,544 H595 M515,551 H595 M555,540 v15"/>
<rect x="580" y="541" width="6" height="13" fill="#222"/>
<rect class="m" x="513" y="558" width="87" height="14"/><path class="lt" d="M515,562 H595 M515,568 H595 M555,558 v14"/>
<rect x="580" y="559" width="6" height="12" fill="#222"/>
<path fill="#222" d="M508,543 h4 v2 h-4 z M508,549 h4 v2 h-4 z M508,561 h4 v2 h-4 z M508,567 h4 v2 h-4 z M601,543 h3 v2 h-3 z M601,549 h3 v2 h-3 z M601,561 h3 v2 h-3 z M601,567 h3 v2 h-3 z"/>
<rect class="l" x="603" y="555" width="17" height="20"/>
<path class="l" d="M630,557 L640,557 L637,566 L637,575 L634,575 L634,566 Z"/>
<path class="l" d="M642,557 L651,557 L648,566 L647,575 L644,575 L644,566 Z"/>
<!-- 44 shields -->
<g>
<path class="l" d="M662,538 L682,538 L682,568 Q672,580 662,568 Z"/>
<rect class="d" x="662" y="549" width="20" height="12"/><ellipse cx="672" cy="553" rx="5" ry="2.5" fill="#e6d98a"/>
<path class="l" d="M687,538 L707,538 L707,568 Q697,580 687,568 Z"/>
<rect class="d" x="687" y="549" width="20" height="12"/><ellipse cx="697" cy="553" rx="5" ry="2.5" fill="#e6d98a"/>
<path fill="none" stroke="#333" stroke-width="1" stroke-dasharray="1.5 1.5" d="M660,566 Q672,584 684,566 M685,566 Q697,584 709,566"/>
<path class="l" d="M712,545 L732,545 L732,568 Q722,582 712,568 Z"/><rect class="d" x="712" y="551" width="20" height="4"/>
<path class="l" d="M734,545 L754,545 L754,568 Q744,582 734,568 Z"/><rect class="d" x="734" y="551" width="20" height="4"/>
<rect class="w" x="757" y="532" width="21" height="15"/><rect class="d" x="757" y="543" width="21" height="4"/><rect class="l" x="760" y="533" width="15" height="10"/>
<rect class="w" x="757" y="555" width="21" height="17"/><rect class="d" x="757" y="568" width="21" height="4"/><rect class="l" x="760" y="556" width="15" height="12"/>
</g>

<!-- ===== LABELS ===== -->
<g>
<text x="36" y="35">26L</text><text x="69" y="32">25</text><text x="108" y="27">24</text><text x="156" y="27">23</text><text x="348" y="26">22</text>
<text x="19" y="69">27 L</text><text x="19" y="82">27 P</text><text x="36" y="117">26P</text>
<text x="17" y="131">33</text><text x="47" y="131">32</text><text x="68" y="130">31</text><text x="298" y="125">29</text><text x="342" y="128">28a</text><text x="363" y="128">28b</text><text x="373" y="150">30</text>
<text x="57" y="193">28</text><text x="136" y="193">28</text>
<text x="186" y="201">46l</text><text x="202" y="209">46n</text><text x="232" y="201">30b</text><text x="279" y="204">46</text><text x="305" y="205">46c</text><text x="334" y="208">46e</text><text x="336" y="221">46f</text><text x="354" y="215">46h</text><text x="364" y="204">30a</text><text x="368" y="215">48^</text><text x="302" y="228">46a</text>
<text x="256" y="244">46d</text><text x="256" y="254">47c</text><text x="263" y="269">47d</text><text x="283" y="267">48L^</text><text x="308" y="267">48P^</text>
<text x="347" y="235">47 L</text><text x="366" y="235">47 P</text><text x="345" y="262">47aL</text><text x="364" y="262">47aP</text>
<text x="285" y="276">48a^</text><text x="318" y="275">49</text><text x="265" y="283">47b^</text>
<text x="187" y="265">49a^</text><text x="191" y="281">49b^</text><text x="210" y="279">51c^</text><text x="187" y="299">49l^</text>
<text x="257" y="302">50a</text><text x="272" y="300">50</text><text x="252" y="319">50b</text><text x="284" y="300">52b^</text><text x="307" y="302">52c</text><text x="307" y="315">52d</text><text x="324" y="300">52^</text><text x="337" y="299">57 L</text><text x="337" y="314">57 P</text>
<text x="101" y="301">41</text>
<text x="19" y="224" style="font-size:6.5px">34a</text><text x="33" y="224" style="font-size:6.5px">34b</text><text x="47" y="225" style="font-size:6.5px">34c</text>
<text x="17" y="240" style="font-size:6.5px">35aL</text><text x="35" y="240" style="font-size:6.5px">35aP</text><text x="52" y="240" style="font-size:6.5px">35bL</text><text x="67" y="240" style="font-size:6.5px">35bP</text>
<text x="20" y="260">37aL</text><text x="43" y="260">37b L</text><text x="70" y="260">37cL</text>
<text x="21" y="283">37aP</text><text x="44" y="283">37bP</text><text x="70" y="283">37cP</text>
<text x="57" y="291">38aL</text><text x="78" y="291">38b L</text><text x="57" y="306">38aP</text><text x="78" y="310">38b P</text>
<text x="44" y="311">37d</text><text x="43" y="326">36d</text><text x="18" y="346">38cL</text><text x="36" y="346">36cP</text>
<text x="229" y="330">53fL^</text><text x="272" y="330">53fP^</text><text x="310" y="330">53hL^</text><text x="350" y="330">53hP^</text>
<text x="205" y="350">53e</text><text x="177" y="360">58a</text>
<text x="196" y="365">53L</text><text x="217" y="365">53P</text><text x="238" y="365">53aL</text><text x="259" y="365">53aP</text><text x="280" y="365">53d L</text><text x="297" y="365">53f P</text><text x="316" y="363">54aL^</text><text x="337" y="363">54aP^</text><text x="360" y="362">54b^</text>
<text x="281" y="383">53iL</text><text x="296" y="383">53iP</text><text x="320" y="384">54c^</text><text x="346" y="385">55L</text><text x="360" y="385">55P</text>
<text x="350" y="398">55aL</text><text x="366" y="398">55aP</text><text x="323" y="405">55b L</text><text x="340" y="405">55b P</text><text x="366" y="412">55c</text>
<text x="280" y="403">53kL</text><text x="295" y="403">53kP</text><text x="280" y="422">53lL</text><text x="296" y="422">53lP</text><text x="277" y="442">53mL</text><text x="293" y="442">53n P</text>
<text x="320" y="419">56L^</text><text x="341" y="419">56P^</text><text x="365" y="432">59b</text><text x="337" y="439">a</text><text x="337" y="450">b</text>
<text x="282" y="465">54L</text><text x="298" y="465">54P</text><text x="318" y="464">57b</text><text x="336" y="464">57a</text><text x="355" y="468">59</text><text x="370" y="476">59a</text><text x="370" y="496">59b</text>
<text x="193" y="497">53cL</text><text x="219" y="497">53cP</text>
<text x="62" y="387">53lL^</text><text x="81" y="387">53 P^</text><text x="143" y="382">53gL^</text><text x="164" y="382">53g P^</text>
<text x="18" y="398">40c</text><text x="45" y="398">40l</text><text x="87" y="396">39a</text><text x="164" y="391">39</text>
<text x="28" y="412">40aP</text><text x="68" y="411">40g</text><text x="67" y="435">40f</text><text x="94" y="435">40e</text><text x="29" y="446">40aL</text>
<text x="16" y="467">40L</text><text x="97" y="456">40b</text><text x="178" y="467">40P</text>
<text x="200" y="561">21e</text><text x="221" y="567">21d</text><text x="366" y="565">21c</text>
<text x="430" y="29">1</text><text x="655" y="26">2</text><text x="700" y="29">3</text><text x="710" y="40">3a</text><text x="727" y="44">5b</text><text x="680" y="70">5^</text><text x="744" y="70">5a^</text><text x="774" y="37">9</text>
<text x="557" y="108">10L</text><text x="557" y="171">10P</text><text x="595" y="128">6L</text><text x="613" y="128">6P</text><text x="580" y="129">8</text><text x="636" y="130">7a</text><text x="640" y="157">7</text><text x="660" y="147">13</text><text x="756" y="156">4</text><text x="737" y="221">15</text>
<text x="566" y="197">11</text><text x="641" y="186">2a</text><text x="639" y="215">11b</text><text x="637" y="236">11c^</text><text x="637" y="272">11d^</text><text x="490" y="268">11a</text><text x="506" y="261">20a</text><text x="529" y="261">20a</text>
<text x="435" y="283">12</text><text x="489" y="306">18a</text><text x="593" y="303">18L</text><text x="593" y="316">18P</text><text x="514" y="314">16aL</text><text x="514" y="333">16aP</text><text x="466" y="311">14P</text><text x="467" y="351">14L</text><text x="521" y="355">16</text><text x="557" y="325">19</text><text x="576" y="331">13r^</text><text x="598" y="331">12c^</text><text x="617" y="333">12a</text>
<text x="643" y="307">21fL</text><text x="661" y="307">21fP</text><text x="680" y="307">21g</text><text x="640" y="330">10aL</text><text x="657" y="330">10bL</text><text x="640" y="383">10bP</text><text x="657" y="383">10aP</text>
<text x="743" y="260">17d</text><text x="768" y="260">17a</text><text x="749" y="272">17c</text><text x="764" y="272">17b</text><text x="712" y="292">17</text><text x="760" y="296">21h</text><text x="764" y="316">21</text>
<text x="766" y="488">21a</text><text x="759" y="522">21b</text><text x="431" y="393">20</text>
<text x="643" y="436">85L</text><text x="661" y="436">85P</text><text x="634" y="476">92c</text><text x="652" y="476">85aP</text><text x="652" y="488">85aL</text><text x="630" y="497">92aL</text><text x="652" y="497">92aP</text><text x="684" y="497">92b</text><text x="628" y="507">92</text>
<text x="469" y="420">90</text><text x="486" y="421">82a</text><text x="510" y="420">82</text><text x="529" y="408">83^</text><text x="547" y="408">83a</text><text x="563" y="408">86a^</text><text x="582" y="408">86</text><text x="597" y="410">86d</text><text x="597" y="434">86c</text><text x="613" y="425">89^</text>
<text x="533" y="434">81</text><text x="553" y="432">87</text><text x="460" y="437">65a</text><text x="453" y="447">65</text><text x="488" y="445">65d</text><text x="503" y="445">65e</text><text x="510" y="456">66L</text><text x="510" y="473">66P</text><text x="548" y="465">65a</text><text x="564" y="455">88</text><text x="564" y="472">88a</text><text x="580" y="455">94</text><text x="594" y="455">94a</text><text x="579" y="471">94b</text><text x="596" y="471">94c</text><text x="612" y="447">91a</text><text x="619" y="458">91</text>
<text x="429" y="503">63g</text><text x="512" y="506">62a</text><text x="512" y="525">62b</text><text x="543" y="515">62d L</text><text x="543" y="530">62d P</text><text x="564" y="505">62g</text><text x="567" y="528">62c</text><text x="595" y="508">62e</text><text x="595" y="527">62f</text><text x="612" y="506">63h</text><text x="612" y="537">63o</text><text x="642" y="535">44c</text>
<text x="503" y="539">63</text><text x="501" y="560">63h</text><text x="580" y="539">62L</text><text x="580" y="579">62P</text><text x="608" y="555">64</text><text x="624" y="555">64aL</text><text x="642" y="555">64aP</text><text x="680" y="537">44</text><text x="724" y="543">44a</text><text x="763" y="554">44b</text>
</g>
</svg>
</body></html>
